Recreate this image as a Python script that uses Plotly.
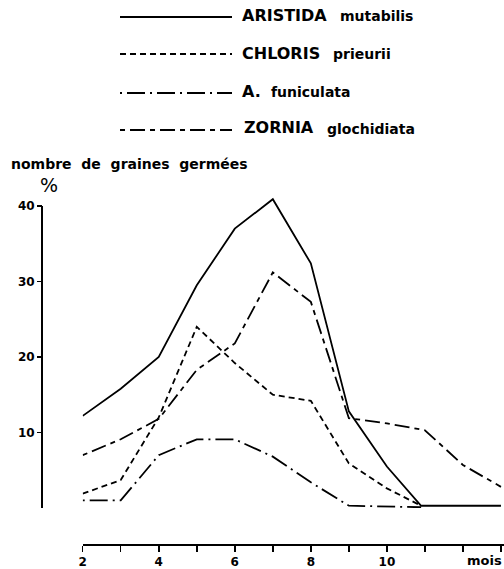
import plotly.graph_objects as go

# ---------------- data ----------------
months_aristida = [2, 3, 4, 5, 6, 7, 8, 9, 10, 10.9, 13]
aristida = [12.2, 15.8, 20.0, 29.5, 37.0, 40.9, 32.4, 12.8, 5.5, 0.3, 0.3]

months_chloris = [2, 3, 4, 5, 6, 7, 8, 9, 10, 10.9]
chloris = [1.9, 3.7, 12.0, 24.0, 19.2, 15.0, 14.2, 5.9, 2.6, 0.3]

months_funiculata = [2, 3, 4, 5, 6, 7, 8, 9, 10.9]
funiculata = [1.0, 1.0, 7.0, 9.1, 9.1, 6.8, 3.4, 0.3, 0.1]

months_zornia = [2, 3, 4, 5, 6, 7, 8, 9, 10, 11, 12, 13]
zornia = [7.0, 9.1, 11.8, 18.3, 21.8, 31.2, 27.3, 11.9, 11.2, 10.3, 5.7, 2.8]

genus = ["ARISTIDA", "CHLORIS", "A.", "ZORNIA"]
species = ["mutabilis", "prieurii", "funiculata", "glochidiata"]

y_tickvals = [10, 20, 30, 40]
x_tickvals = [2, 3, 4, 5, 6, 7, 8, 9, 10, 11, 12, 13]
x_ticktext = ["2", "", "4", "", "6", "", "8", "", "10", "", "", ""]

# ---------------- geometry helpers ----------------
W, H = 504, 569
L, R, T, B = 42, 0, 180, 24
PW, PH = W - L - R, H - T - B
Y0_PX, Y40_PX = 508, 206
PX_PER_UNIT = (Y0_PX - Y40_PX) / 40.0
Y_TOP = 42.0


def px(x):
    return (x - L) / PW


def py(y):
    return (H - B - y) / PH


FONT = "DejaVu Sans"
dashes = ["solid", "6px,4px", "2px,5px,18px,5px", "5px,5px,15px,5px"]
series = [
    (months_aristida, aristida),
    (months_chloris, chloris),
    (months_funiculata, funiculata),
    (months_zornia, zornia),
]

fig = go.Figure()
for (mx, vals), d in zip(series, dashes):
    fig.add_trace(go.Scatter(
        x=mx, y=vals, mode="lines",
        line=dict(color="black", width=1.8, dash=d),
        showlegend=False, hoverinfo="skip", cliponaxis=False,
    ))

# ---------------- hand-drawn style legend ----------------
line_y = [17, 54, 93, 130]
text_y = [15, 53, 91, 128]
genus_x = [240, 240, 240, 242]
species_x = [338, 331, 269, 325]
shapes = []
annotations = []
for i in range(4):
    shapes.append(dict(
        type="line", xref="paper", yref="paper",
        x0=px(120), x1=px(232), y0=py(line_y[i]), y1=py(line_y[i]),
        line=dict(color="black", width=2, dash=dashes[i]),
    ))
    annotations.append(dict(
        x=px(genus_x[i]), y=py(text_y[i]), xref="paper", yref="paper",
        text=genus[i], showarrow=False, xanchor="left", yanchor="middle",
        font=dict(family=FONT, size=16, color="black", weight="bold"),
    ))
    annotations.append(dict(
        x=px(species_x[i]), y=py(text_y[i] + 0.5), xref="paper", yref="paper",
        text=species[i], showarrow=False, xanchor="left", yanchor="middle",
        font=dict(family=FONT, size=14, color="black", weight="bold"),
    ))

# y axis line: drawn only from 0 to 40 as in the original
shapes.append(dict(
    type="line", xref="paper", yref="y",
    x0=0, x1=0, y0=0, y1=40,
    line=dict(color="black", width=2),
))

annotations.append(dict(
    x=px(9), y=py(164), xref="paper", yref="paper",
    text="nombre\u00a0\u00a0de\u00a0\u00a0graines\u00a0\u00a0germées",
    showarrow=False, xanchor="left", yanchor="middle",
    font=dict(family=FONT, size=14, color="black", weight="bold"),
))
annotations.append(dict(
    x=px(48.5), y=py(185), xref="paper", yref="paper",
    text="%", showarrow=False, xanchor="center", yanchor="middle",
    font=dict(family=FONT, size=19, color="black"),
))
annotations.append(dict(
    x=1.0, y=py(560), xref="paper", yref="paper",
    text="mois", showarrow=False, xanchor="right", yanchor="middle",
    font=dict(family=FONT, size=13, color="black", weight="bold"),
))

fig.update_layout(
    width=W, height=H,
    margin=dict(l=L, r=R, t=T, b=B, pad=0),
    paper_bgcolor="white", plot_bgcolor="white",
    showlegend=False,
    shapes=shapes,
    annotations=annotations,
    xaxis=dict(
        domain=[px(82.7), 1], range=[2, 13.08],
        anchor="free", position=0,
        showline=True, linecolor="black", linewidth=2,
        ticks="outside", ticklen=6, tickwidth=1.5, tickcolor="black",
        tickvals=x_tickvals, ticktext=x_ticktext,
        tickfont=dict(family=FONT, size=12, color="black", weight="bold"),
        showgrid=False, zeroline=False, fixedrange=True,
    ),
    yaxis=dict(
        domain=[py(Y0_PX), py(Y0_PX - Y_TOP * PX_PER_UNIT)], range=[0, Y_TOP],
        anchor="free", position=0,
        showline=False,
        ticks="outside", ticklen=5, tickwidth=1.5, tickcolor="black",
        tickvals=y_tickvals,
        tickfont=dict(family=FONT, size=12, color="black", weight="bold"),
        showgrid=False, zeroline=False, fixedrange=True,
    ),
)

fig.write_html(
    "out.html",
    config={"displayModeBar": False, "staticPlot": True},
    post_script="document.body.style.margin='0';document.body.style.overflow='hidden';",
)
